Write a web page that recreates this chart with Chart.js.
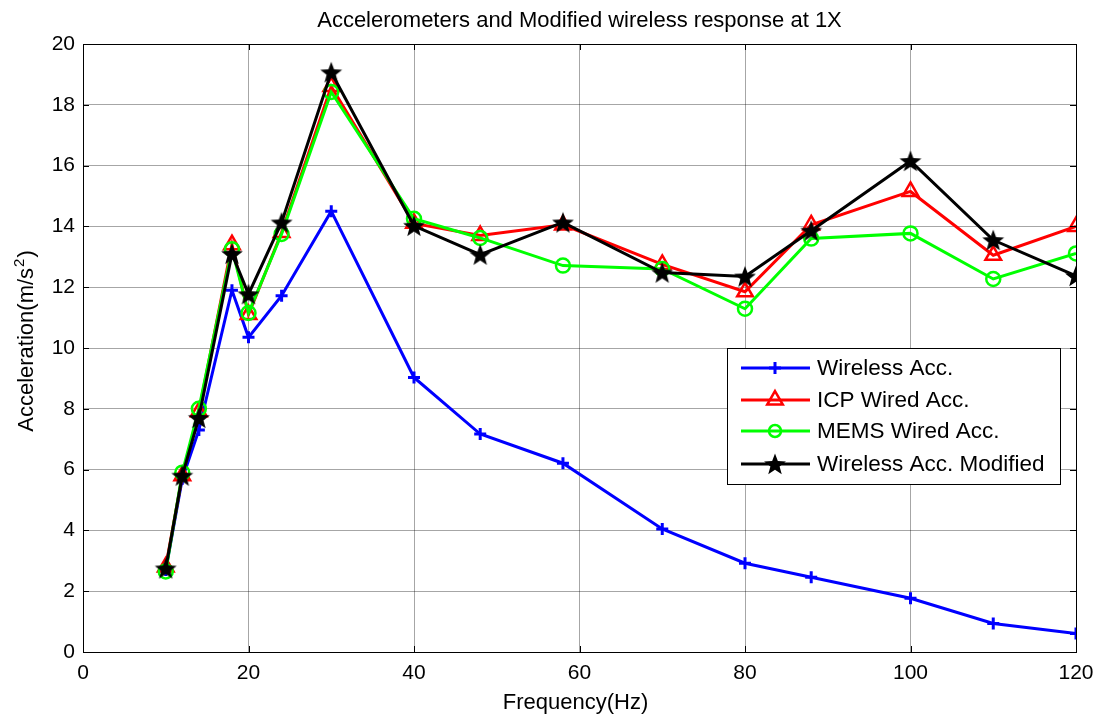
<!DOCTYPE html>
<html>
<head>
<meta charset="utf-8">
<script src="https://cdn.jsdelivr.net/npm/chart.js@4"></script>
<style>
  html, body { margin: 0; padding: 0; background: #fff; }
  #wrap { width: 1099px; height: 715px; position: relative; }
</style>
</head>
<body>
<div id="wrap"><canvas id="c" width="1099" height="715"></canvas></div>
<script>
// Excitation frequencies (Hz)
const frequencies = [10, 12, 14, 18, 20, 24, 30, 40, 48, 58, 70, 80, 88, 100, 110, 120];

// Peak acceleration (m/s^2) for each sensor
const wirelessAcc = [2.7, 5.7, 7.3, 11.9, 10.35, 11.72, 14.5, 9.03, 7.17, 6.21, 4.05, 2.92, 2.46, 1.77, 0.94, 0.61];
const icpWiredAcc = [2.8, 5.8, 7.9, 13.4, 11.1, 13.8, 18.6, 14.1, 13.7, 14.05, 12.75, 11.85, 14.05, 15.15, 13.05, 14.0];
const memsWiredAcc = [2.65, 5.9, 8.0, 13.25, 11.15, 13.75, 18.42, 14.25, 13.62, 12.71, 12.6, 11.29, 13.6, 13.77, 12.27, 13.11];
const wirelessModified = [2.75, 5.8, 7.7, 13.1, 11.77, 14.13, 19.07, 14.02, 13.07, 14.13, 12.48, 12.35, 13.86, 16.15, 13.55, 12.37];

// Axis ticks
const xTicks = [0, 20, 40, 60, 80, 100, 120];
const yTicks = [0, 2, 4, 6, 8, 10, 12, 14, 16, 18, 20];

const titleText = 'Accelerometers and Modified wireless response at 1X';
const xLabel = 'Frequency(Hz)';
const yLabelMain = 'Acceleration(m/s';
const yLabelSup = '2';
const yLabelEnd = ')';
const seriesNames = ['Wireless Acc.', 'ICP Wired Acc.', 'MEMS Wired Acc.', 'Wireless Acc. Modified'];

const FONT = '"Liberation Sans", Arial, Helvetica, sans-serif';

// Filled five-point star used as the marker of the modified wireless series
function makeStar(size, color) {
  const cv = document.createElement('canvas');
  cv.width = size; cv.height = size;
  const g = cv.getContext('2d');
  const cx = size / 2, cy = size / 2 + size * 0.04;
  const R = size / 2 - 0.5, r = R * 0.42;
  g.beginPath();
  for (let i = 0; i < 10; i++) {
    const rad = i % 2 === 0 ? R : r;
    const a = -Math.PI / 2 + i * Math.PI / 5;
    const px = cx + rad * Math.cos(a), py = cy + rad * Math.sin(a);
    if (i === 0) g.moveTo(px, py); else g.lineTo(px, py);
  }
  g.closePath();
  g.fillStyle = color;
  g.fill();
  return cv;
}
const starMarker = makeStar(24, '#000');
const starLegend = makeStar(24, '#000');

function pts(ys) { return frequencies.map((f, i) => ({ x: f, y: ys[i] })); }

const series = [
  { label: seriesNames[0], data: pts(wirelessAcc), borderColor: '#0000ff', pointStyle: 'cross', pointRadius: 6, pointBorderWidth: 3, order: 4 },
  { label: seriesNames[1], data: pts(icpWiredAcc), borderColor: '#ff0000', pointStyle: 'triangle', pointRadius: 9, pointBorderWidth: 2.5, order: 3 },
  { label: seriesNames[2], data: pts(memsWiredAcc), borderColor: '#00ff00', pointStyle: 'circle', pointRadius: 7, pointBorderWidth: 2.5, order: 2 },
  { label: seriesNames[3], data: pts(wirelessModified), borderColor: '#000000', pointStyle: starMarker, pointRadius: 12, pointBorderWidth: 0, order: 1 }
].map(d => Object.assign({
  borderWidth: 3,
  pointBorderColor: d.borderColor,
  pointBackgroundColor: 'rgba(0,0,0,0)',
  fill: false,
  tension: 0
}, d));

// Frame, inward tick marks, title, axis labels and the boxed legend
const decorations = {
  id: 'decorations',
  afterDatasetsDraw(chart) {
    const ctx = chart.ctx;
    const a = chart.chartArea;
    const xs = chart.scales.x, ys = chart.scales.y;
    ctx.save();
    ctx.strokeStyle = '#000';
    ctx.lineWidth = 1;
    ctx.beginPath();
    xTicks.forEach(v => {
      const p = Math.round(xs.getPixelForValue(v)) + 0.5;
      ctx.moveTo(p, a.bottom); ctx.lineTo(p, a.bottom - 6);
      ctx.moveTo(p, a.top); ctx.lineTo(p, a.top + 6);
    });
    yTicks.forEach(v => {
      const p = Math.round(ys.getPixelForValue(v)) + 0.5;
      ctx.moveTo(a.left, p); ctx.lineTo(a.left + 6, p);
      ctx.moveTo(a.right, p); ctx.lineTo(a.right - 6, p);
    });
    ctx.stroke();
    ctx.strokeRect(Math.round(a.left) + 0.5, Math.round(a.top) + 0.5, Math.round(a.right - a.left), Math.round(a.bottom - a.top));

    // title
    ctx.fillStyle = '#000';
    ctx.font = '22px ' + FONT;
    ctx.textAlign = 'center';
    ctx.textBaseline = 'alphabetic';
    ctx.fillText(titleText, (a.left + a.right) / 2, 27);

    // x label
    ctx.font = '22px ' + FONT;
    ctx.fillText(xLabel, (a.left + a.right) / 2 - 4, 709);

    // y label with superscript
    ctx.save();
    ctx.translate(33, 342);
    ctx.rotate(-Math.PI / 2);
    ctx.textAlign = 'left';
    const mainFont = '22px ' + FONT, supFont = '15px ' + FONT;
    ctx.font = mainFont;
    const w1 = ctx.measureText(yLabelMain).width;
    const w3 = ctx.measureText(yLabelEnd).width;
    ctx.font = supFont;
    const w2 = ctx.measureText(yLabelSup).width;
    let x0 = -(w1 + w2 + w3) / 2;
    ctx.font = mainFont;
    ctx.fillText(yLabelMain, x0, 0);
    ctx.font = supFont;
    ctx.fillText(yLabelSup, x0 + w1 + 1, -9);
    ctx.font = mainFont;
    ctx.fillText(yLabelEnd, x0 + w1 + w2 + 2, 0);
    ctx.restore();

    // legend
    const lx = 727, ly = 348, lw = 333, lh = 136;
    ctx.fillStyle = '#fff';
    ctx.fillRect(lx, ly, lw, lh);
    ctx.strokeStyle = '#000';
    ctx.lineWidth = 1;
    ctx.strokeRect(lx + 0.5, ly + 0.5, lw, lh);
    const rowY = [368, 400, 431, 464];
    chart.data.datasets.forEach((ds, i) => {
      const y = rowY[i];
      ctx.strokeStyle = ds.borderColor;
      ctx.lineWidth = 3;
      ctx.beginPath();
      ctx.moveTo(741, y); ctx.lineTo(810, y);
      ctx.stroke();
      const mx = 775;
      if (ds.pointStyle === starMarker) {
        ctx.drawImage(starLegend, mx - 12, y - 12);
      } else {
        ctx.fillStyle = 'rgba(0,0,0,0)';
        ctx.strokeStyle = ds.borderColor;
        ctx.lineWidth = ds.pointBorderWidth;
        Chart.helpers.drawPoint(ctx, {
          pointStyle: ds.pointStyle,
          radius: ds.pointStyle === 'circle' ? 6 : ds.pointRadius,
          borderWidth: ds.pointBorderWidth
        }, mx, y);
      }
      ctx.fillStyle = '#000';
      ctx.font = '22.5px ' + FONT;
      ctx.textAlign = 'left';
      ctx.textBaseline = 'middle';
      ctx.fillText(ds.label, 817, y + 1);
    });
    ctx.restore();
  }
};

new Chart(document.getElementById('c'), {
  type: 'line',
  data: { datasets: series },
  options: {
    responsive: false,
    animation: false,
    events: [],
    layout: { padding: { top: 44, right: 23, left: 0, bottom: 0 } },
    plugins: { legend: { display: false }, tooltip: { enabled: false }, title: { display: false } },
    scales: {
      x: {
        type: 'linear', min: 0, max: 120,
        afterBuildTicks: s => { s.ticks = xTicks.map(v => ({ value: v })); },
        afterFit: s => { s.height = 63; s.paddingLeft = 0; s.paddingRight = 0; },
        grid: { color: 'rgba(0,0,0,0.35)', lineWidth: 1, drawTicks: false },
        border: { color: '#000', width: 1 },
        ticks: { color: '#000', font: { family: FONT, size: 21 }, padding: 9, maxRotation: 0 }
      },
      y: {
        type: 'linear', min: 0, max: 20,
        afterBuildTicks: s => { s.ticks = yTicks.map(v => ({ value: v })); },
        afterFit: s => { s.width = 83; s.paddingTop = 0; s.paddingBottom = 0; },
        grid: { color: 'rgba(0,0,0,0.35)', lineWidth: 1, drawTicks: false },
        border: { color: '#000', width: 1 },
        ticks: { color: '#000', font: { family: FONT, size: 21 }, padding: 8 }
      }
    }
  },
  plugins: [decorations]
});
</script>
</body>
</html>
